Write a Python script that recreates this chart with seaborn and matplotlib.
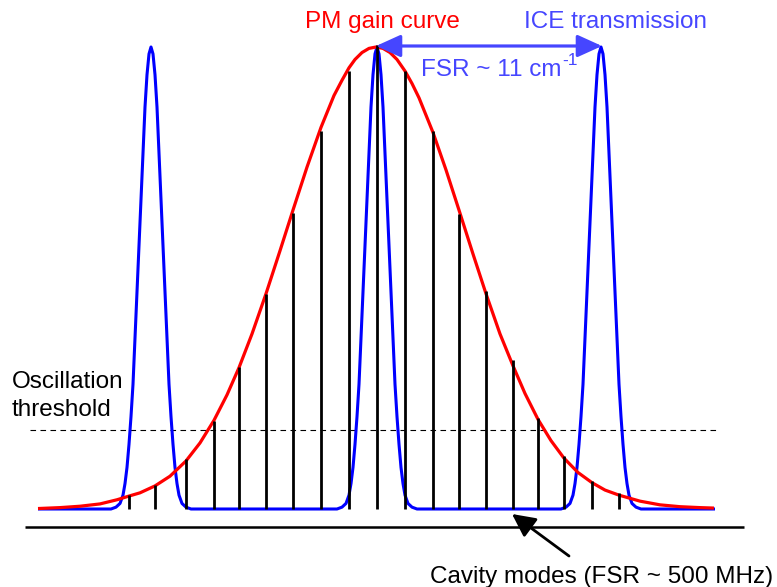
import numpy as np
import pandas as pd
import matplotlib
matplotlib.use("Agg")
import matplotlib.pyplot as plt
import seaborn as sns

# ---------------- data ----------------
# horizontal position in arbitrary frequency units, vertical as normalised amplitude
red_x = [38, 60, 80, 100, 117, 129, 140, 155, 170, 186, 200, 214, 227, 239, 252, 266, 280,
         293, 307, 321, 334, 342, 349, 355, 362, 369, 376, 383, 390, 397, 405, 412, 419,
         433, 446, 459, 473, 486, 500, 513, 525, 538, 551, 564, 578, 592, 605, 619, 640,
         660, 680, 700, 714]
red_a = [0.001, 0.003, 0.006, 0.011, 0.020, 0.028, 0.035, 0.050, 0.071, 0.104, 0.143,
         0.192, 0.247, 0.306, 0.379, 0.466, 0.559, 0.647, 0.740, 0.826, 0.895, 0.928,
         0.955, 0.973, 0.988, 0.997, 1.000, 0.997, 0.988, 0.973, 0.948, 0.921, 0.890,
         0.815, 0.734, 0.647, 0.552, 0.466, 0.379, 0.310, 0.250, 0.194, 0.148, 0.110,
         0.079, 0.057, 0.041, 0.030, 0.017, 0.009, 0.005, 0.003, 0.002]

# ICE transmission: three peaks, each with the same measured profile
ice_centers = [151, 377, 601]
ice_dx = [-40, -35, -31, -28, -26, -24, -22, -20, -18, -16, -14, -12, -10, -8, -6, -4, -2, 0,
          2, 4, 6, 8, 10, 12, 14, 16, 18, 20, 22, 24, 26, 28, 31, 35, 40]
ice_a = [0.0, 0.004, 0.012, 0.03, 0.055, 0.09, 0.14, 0.20, 0.27, 0.37, 0.47, 0.57, 0.67,
         0.77, 0.87, 0.94, 0.985, 1.0, 0.985, 0.94, 0.87, 0.77, 0.67, 0.57, 0.47, 0.37,
         0.27, 0.20, 0.14, 0.09, 0.055, 0.03, 0.012, 0.004, 0.0]
ice_start, ice_end = 38, 715

# cavity modes
mode_x = [129, 155, 186, 214, 239, 266, 293, 321, 349, 377, 405, 433, 459, 486, 513, 538,
          564, 592, 619]
mode_a = [0.030, 0.052, 0.108, 0.190, 0.307, 0.465, 0.641, 0.818, 0.948, 1.004, 0.948,
          0.818, 0.639, 0.472, 0.323, 0.197, 0.115, 0.061, 0.034]

threshold = 0.171
fsr_ice_from, fsr_ice_to = 377, 601

# ---------------- build tables ----------------
bx, ba = [ice_start], [0.0]
for c in ice_centers:
    for d, a in zip(ice_dx, ice_a):
        bx.append(c + d)
        ba.append(a)
bx.append(ice_end)
ba.append(0.0)
df_ice = pd.DataFrame({"x": bx, "a": ba})
df_red = pd.DataFrame({"x": red_x, "a": red_a})
rows = []
for i, (x, a) in enumerate(zip(mode_x, mode_a)):
    rows.append({"x": x, "a": 0.0, "mode": i})
    rows.append({"x": x, "a": a, "mode": i})
df_modes = pd.DataFrame(rows)

# ---------------- style ----------------
sns.set_theme(style="white")
plt.rcParams["font.family"] = ["Liberation Sans", "DejaVu Sans"]
plt.rcParams["lines.solid_capstyle"] = "butt"
plt.rcParams["lines.solid_joinstyle"] = "round"

W, H = 777, 587
fig = plt.figure(figsize=(W / 100, H / 100), dpi=100)
ax = fig.add_axes([0, 0, 1, 1])

def ay(py):
    # pixel row -> amplitude units (baseline at row 509, peak at row 47)
    return (509 - py) / 462.0

ax.set_xlim(0, W)
ax.set_ylim(ay(H), ay(0))
ax.axis("off")

BLUE = "#0000ff"
RED = "#ff0000"
LBLUE = "#4646ff"
FS = 17.5

sns.lineplot(data=df_ice, x="x", y="a", sort=False, color=BLUE, lw=2.2, ax=ax, zorder=2)
sns.lineplot(data=df_red, x="x", y="a", sort=False, color=RED, lw=2.3, ax=ax, zorder=3)
sns.lineplot(data=df_modes, x="x", y="a", units="mode", estimator=None, sort=False,
             color="black", lw=2.0, ax=ax, zorder=4)

# baseline axis and threshold
ax.plot([25, 744], [ay(527), ay(527)], color="black", lw=1.8, zorder=1)
ax.plot([30, 716], [threshold, threshold], color="black", lw=0.8,
        linestyle=(0, (5, 4)), zorder=1)

# FSR arrow
ax.annotate("", xy=(fsr_ice_to + 1, ay(46)), xytext=(fsr_ice_from - 1, ay(46)),
            arrowprops=dict(arrowstyle="<|-|>,head_length=0.75,head_width=0.34",
                            color=LBLUE, lw=2.3, shrinkA=0, shrinkB=0,
                            mutation_scale=20), zorder=5)

# texts
ax.text(382, ay(28), "PM gain curve", color=RED, fontsize=FS, ha="center", va="baseline")
ax.text(615, ay(28), "ICE transmission", color=LBLUE, fontsize=FS, ha="center", va="baseline")
ax.text(421, ay(76), "FSR ~ 11 cm", color=LBLUE, fontsize=FS, ha="left", va="baseline")
ax.text(562, ay(65), "-1", color=LBLUE, fontsize=12.5, ha="left", va="baseline")
ax.text(12, ay(388), "Oscillation", color="black", fontsize=FS, ha="left", va="baseline")
ax.text(12, ay(416), "threshold", color="black", fontsize=FS, ha="left", va="baseline")
ax.text(430, ay(583), "Cavity modes (FSR ~ 500 MHz)", color="black", fontsize=FS,
        ha="left", va="baseline")

ax.annotate("", xy=(512, ay(514)), xytext=(569, ay(556)),
            arrowprops=dict(arrowstyle="-|>,head_length=0.7,head_width=0.35",
                            color="black", lw=2.0, shrinkA=0, shrinkB=0,
                            mutation_scale=20), zorder=5)

fig.savefig("out.png", dpi=100)
